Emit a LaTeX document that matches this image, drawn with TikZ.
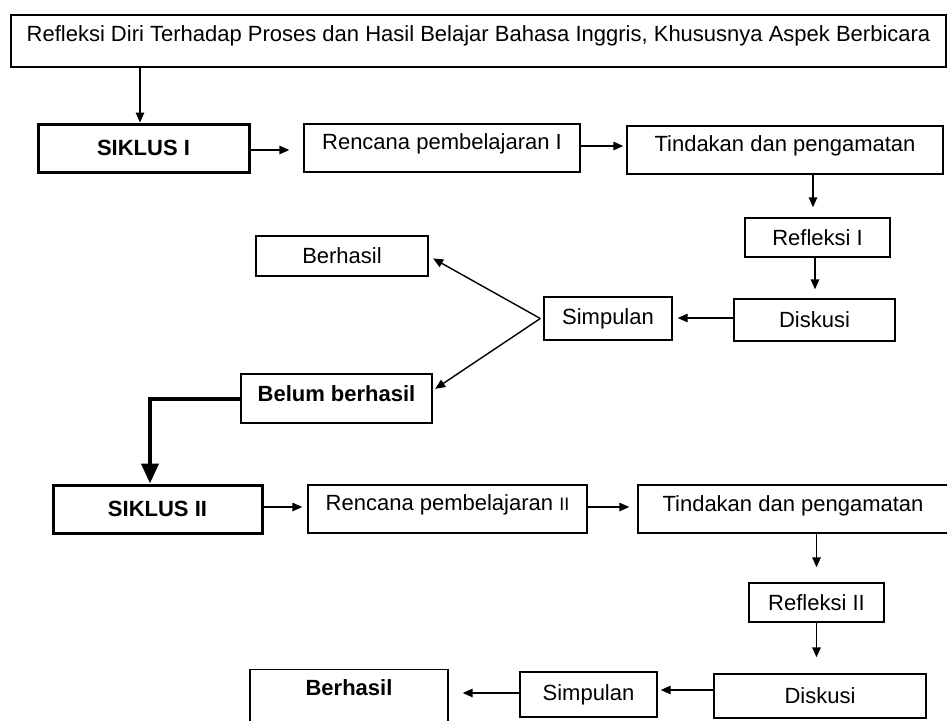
\documentclass[tikz,border=0pt]{standalone}
\usepackage{fontspec}
\setmainfont{Liberation Sans}
\usetikzlibrary{arrows.meta,positioning,calc}
\tikzset{
  stepbox/.style={draw=black,line width=1.4pt,inner sep=0pt,align=center,
    font=\fontsize{22}{25}\selectfont},
  cyclebox/.style={stepbox,line width=3pt,font=\fontsize{22}{25}\selectfont\bfseries},
  flowarrow/.style={-{Triangle[length=10pt,width=8.5pt]},line width=1.4pt},
  loopback/.style={-{Triangle[length=20pt,width=17pt]},line width=4pt}
}

\begin{document}
\begin{tikzpicture}[x=1pt,y=-1pt]
  \useasboundingbox (0,0) rectangle (947,720);
  \clip (0,0) rectangle (947,720);
  \node[stepbox,minimum width=935pt,minimum height=52pt,text depth=14pt] (refleksi) at (478.5,41)
    {Refleksi Diri Terhadap Proses dan Hasil Belajar Bahasa Inggris, Khususnya Aspek Berbicara};
  % siklus I
  \node[cyclebox,minimum width=211pt,minimum height=48pt] (siklusA) at (143.5,148) {SIKLUS I};
  \node[stepbox,minimum width=276pt,minimum height=48pt,text depth=13pt] (rencanaA) at (442,148)
    {Rencana pembelajaran I};
  \node[stepbox,minimum width=316pt,minimum height=48pt,text depth=12pt] (tindakanA) at (785,150)
    {Tindakan dan pengamatan};
  \node[stepbox,minimum width=145pt,minimum height=39pt] (refleksiA) at (817.5,237.5) {Refleksi I};
  \node[stepbox,minimum width=161pt,minimum height=42pt] (diskusiA) at (814.5,320) {Diskusi};
  \node[stepbox,minimum width=128pt,minimum height=43pt] (simpulanA) at (608,318.5) {Simpulan};
  \node[stepbox,minimum width=172pt,minimum height=40pt] (berhasilA) at (342,256) {Berhasil};
  \node[stepbox,minimum width=191pt,minimum height=49pt,text depth=9pt,font=\fontsize{22}{25}\selectfont\bfseries]
    (belum) at (336.5,398.5) {Belum berhasil};
  % siklus II
  \node[cyclebox,minimum width=209pt,minimum height=48pt] (siklusB) at (157.5,509) {SIKLUS II};
  \node[stepbox,minimum width=279pt,minimum height=48pt,text depth=12pt] (rencanaB) at (447.5,509)
    {Rencana pembelajaran {\fontsize{18}{20}\selectfont II}};
  \node[stepbox,minimum width=310pt,minimum height=48pt,text depth=11pt] (tindakanB) at (793,509)
    {Tindakan dan pengamatan};
  \node[stepbox,minimum width=135pt,minimum height=39pt] (refleksiB) at (816.5,602.5) {Refleksi II};
  \node[stepbox,minimum width=212pt,minimum height=44pt] (diskusiB) at (820,696) {Diskusi};
  \node[stepbox,minimum width=137pt,minimum height=45pt] (simpulanB) at (588.5,694.5) {Simpulan};
  \node[stepbox,minimum width=198pt,inner ysep=11pt,text height=15pt,text depth=45pt,anchor=north,
    font=\fontsize{22}{25}\selectfont\bfseries] (berhasilB) at (349,669) {Berhasil};

  \draw[flowarrow] ([xshift=-3.5pt]siklusA.north |- refleksi.south) -- ([xshift=-3.5pt]siklusA.north);
  \draw[flowarrow,shorten >=14pt] ([yshift=-2pt]siklusA.east) -- ([yshift=-2pt]siklusA.east -| rencanaA.west);
  \draw[flowarrow,shorten >=3pt] ([yshift=2pt]rencanaA.east) -- ([yshift=2pt]rencanaA.east -| tindakanA.west);
  \draw[flowarrow,shorten >=10pt] ([xshift=-4.5pt]refleksiA.north |- tindakanA.south) -- ([xshift=-4.5pt]refleksiA.north);
  \draw[flowarrow,shorten >=9pt] ([xshift=-2.5pt]refleksiA.south) -- ([xshift=-2.5pt]refleksiA.south |- diskusiA.north);
  \draw[flowarrow,shorten >=5pt] ([yshift=2pt]diskusiA.west) -- ([yshift=2pt]diskusiA.west -| simpulanA.east);
  \draw[flowarrow,shorten >=5pt] ([xshift=-3pt]simpulanA.west) -- (berhasilA.east);
  \draw[flowarrow,shorten >=3pt] ([xshift=-3pt]simpulanA.west) -- ([yshift=8pt]belum.east);
  \draw[loopback] (belum.west) -| ([xshift=-7.5pt]siklusB.north);

  \draw[flowarrow,shorten >=5pt] ([yshift=2pt]siklusB.east) -- ([yshift=2pt]siklusB.east -| rencanaB.west);
  \draw[flowarrow,shorten >=8pt] ([yshift=2pt]rencanaB.east) -- ([yshift=2pt]rencanaB.east -| tindakanB.west);
  \draw[flowarrow,shorten >=15pt] (refleksiB.north |- tindakanB.south) -- (refleksiB.north);
  \draw[flowarrow,shorten >=16pt] (refleksiB.south) -- (refleksiB.south |- diskusiB.north);
  \draw[flowarrow,shorten >=3pt] ([yshift=6pt]diskusiB.west) -- ([yshift=6pt]diskusiB.west -| simpulanB.east);
  \draw[flowarrow,shorten >=14pt] ([yshift=1.5pt]simpulanB.west) -- ([yshift=1.5pt]simpulanB.west -| berhasilB.east);
\end{tikzpicture}
\end{document}
